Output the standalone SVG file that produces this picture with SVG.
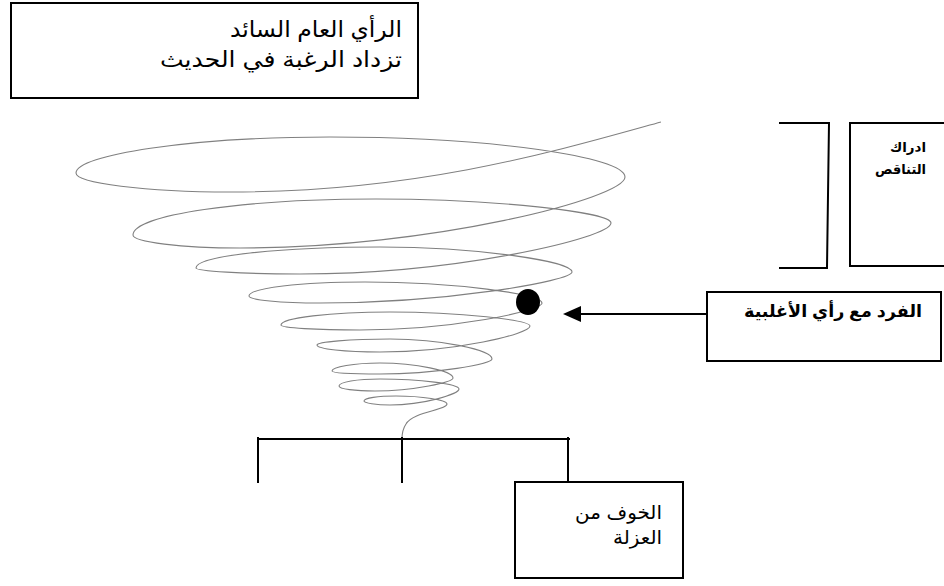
<svg xmlns="http://www.w3.org/2000/svg" width="944" height="586" viewBox="0 0 944 586">
<style>
.box{fill:#fff;stroke:#000;stroke-width:2}
.ln{fill:none;stroke:#000;stroke-width:2}
.spiral{fill:none;stroke:#808080;stroke-width:1.1}
.t{font-family:"Liberation Sans","DejaVu Sans",sans-serif;fill:#000;text-anchor:end}
.b{font-weight:bold}
</style>
<rect width="944" height="586" fill="#fff"/>
<g id="node-public-opinion">
<rect class="box" x="11" y="3" width="407" height="95"/>
<text class="t" x="402" y="37" font-size="22" textLength="172" lengthAdjust="spacingAndGlyphs">الرأي العام السائد</text>
<text class="t" x="402" y="67" font-size="22" textLength="242" lengthAdjust="spacingAndGlyphs">تزداد الرغبة في الحديث</text>
</g>
<g id="node-perception">
<rect class="box" x="850" y="123" width="100" height="143"/>
<text class="t b" x="926" y="152" font-size="13.5" textLength="36" lengthAdjust="spacingAndGlyphs">ادراك</text>
<text class="t b" x="926" y="174" font-size="13.5" textLength="51" lengthAdjust="spacingAndGlyphs">التناقص</text>
</g>
<g id="node-individual">
<rect class="box" x="707" y="292" width="234" height="69"/>
<text class="t b" x="922" y="317" font-size="17" textLength="178" lengthAdjust="spacingAndGlyphs">الفرد مع رأي الأغلبية</text>
</g>
<g id="node-fear">
<rect class="box" x="515" y="482" width="168" height="96"/>
<text class="t" x="662" y="519" font-size="19" textLength="87" lengthAdjust="spacingAndGlyphs">الخوف من</text>
<text class="t" x="662" y="544" font-size="19" textLength="49" lengthAdjust="spacingAndGlyphs">العزلة</text>
</g>
<g id="spiral">
<path class="spiral" d="M661,122 C560,150 420,192 230,192 C145,192 76,183 76,173 C76,155 190,137 330,137 C492,137 625,157 625,177
C625,198 432,248 240,248 C181,248 133,242 133,235 C133,215 242,199 376,199 C494,199 611,212 611,223
C611,238 456,274 300,274 C243,274 196,271 196,268 C196,256 279,247 380,247 C476,247 572,261 572,272
C572,281 446,303 320,303 C281,303 249,300 249,296 C249,288 301,282 365,282 C454,282 542,294 542,303
C542,311 451,330 360,330 C317,330 281,328 281,325 C281,318 330,312 390,312 C460,312 530,320 530,326
C530,334 455,352 380,352 C345,352 317,349 317,345 C317,342 350,339 390,339 C441,339 492,350 492,359
C492,364 436,374 380,374 C354,374 332,373 332,371 C332,367 354,363 380,363 C416,363 453,371 453,378
C453,382 414,391 375,391 C355,391 339,389 339,386 C339,382 357,379 380,379 C420,379 459,384 459,389
C459,394 424,405 390,405 C376,405 364,403 364,401 C364,398 378,396 396,396 C422,396 447,400 447,404
C447,410 412,412 406,424 Q402,430 402,439"/>
<ellipse cx="528" cy="302" rx="12" ry="13" fill="#000"/>
</g>
<g id="connectors">
<polyline class="ln" points="779,123 829,123 827,268 779,268"/>
<line class="ln" x1="707" y1="314" x2="578" y2="314"/>
<polygon points="563,314 581,306 581,322" fill="#000"/>
<line class="ln" x1="258" y1="439" x2="570" y2="439"/>
<line class="ln" x1="258" y1="437" x2="258" y2="483"/>
<line class="ln" x1="402" y1="437" x2="402" y2="483"/>
<line class="ln" x1="568" y1="437" x2="568" y2="482"/>
</g>
</svg>
